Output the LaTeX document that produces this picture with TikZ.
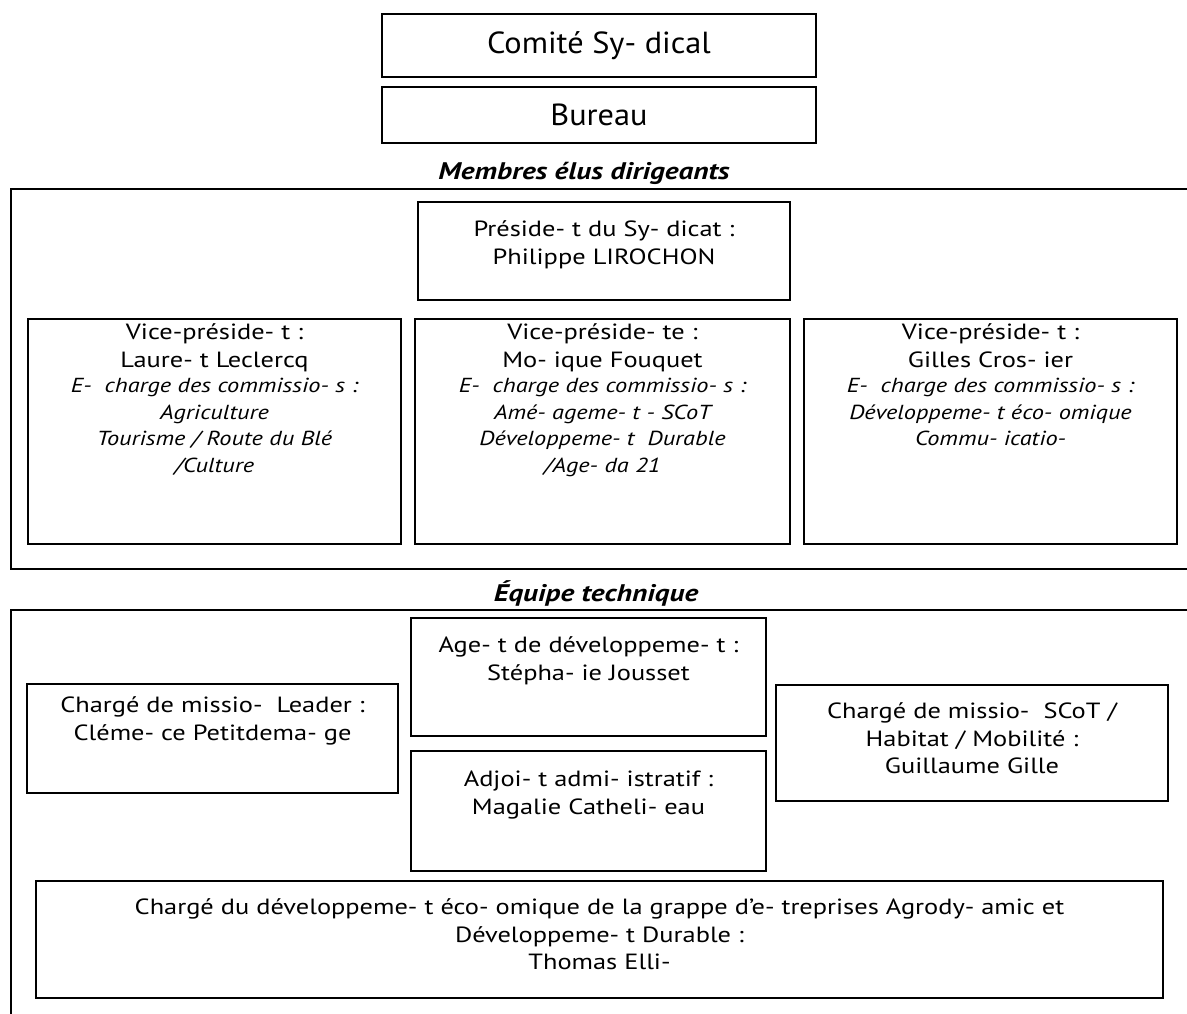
\documentclass[tikz,border=0pt]{standalone}
\usepackage{fontspec}
\setmainfont{PT Sans}[FakeStretch=1.2]
\newfontfamily\bigfont{PT Sans}[FakeStretch=1.06]
\newfontfamily\headfont{PT Sans}[FakeStretch=1.22]
\usetikzlibrary{fit}
\newcommand{\myst}{\rule{0pt}{1em}}
\tikzset{
 box/.style={draw=black, line width=1.5pt, inner sep=0pt},
 frame/.style={draw=black, line width=2pt},
 txt/.style={font=\fontsize{22}{27.5}\selectfont, align=center, inner sep=0pt, anchor=north},
 itxt/.style={txt, font=\fontsize{20.3}{26.5}\selectfont\itshape},
 big/.style={font=\bigfont\fontsize{30.5}{34}\selectfont, inner sep=0pt},
 head/.style={font=\headfont\fontsize{24}{28}\selectfont\bfseries\itshape, inner sep=0pt, anchor=base},
}
\begin{document}
\begin{tikzpicture}[x=1pt,y=-1pt]
\useasboundingbox (0,0) rectangle (1187,1014);
% top boxes
\node[box, fit={(382,14) (816,77)}] (comite) {};
\node[big] (comitet) at (comite.center) {Comité Sy- dical};
\node[box, fit={(382,87) (816,143)}] (bureau) {};
\node[big] (bureaut) at (bureau.center) {Bureau};
% section 1
\node[head] (membres) at (584,179) {Membres élus dirigeants};
\draw[frame] (1187,189) -- (11,189) -- (11,569) -- (1187,569);
\node[box, fit={(418,202) (790,300)}] (pres) {};
\node[txt] (prest) at (604,214.7) {\myst Préside- t du Sy- dicat :\\Philippe LIROCHON};
\node[box, fit={(28,319) (401,544)}] (vp1) {};
\node[txt] (vp1a) at (214.5,317.7) {\myst Vice-préside- t :\\Laure- t Leclercq};
\node[itxt] (vp1b) at (214.5,372) {\myst E-~~charge des commissio- s :\\Agriculture\\Tourisme / Route du Blé\\/Culture};
\node[box, fit={(415,319) (790,544)}] (vp2) {};
\node[txt] (vp2a) at (602.5,317.7) {\myst Vice-préside- te :\\Mo- ique Fouquet};
\node[itxt] (vp2b) at (602.5,372) {\myst E-~~charge des commissio- s :\\Amé- ageme- t - SCoT\\Développeme- t~~Durable\\/Age- da 21};
\node[box, fit={(804,319) (1177,544)}] (vp3) {};
\node[txt] (vp3a) at (990.5,317.7) {\myst Vice-préside- t :\\Gilles Cros- ier};
\node[itxt] (vp3b) at (990.5,372) {\myst E-~~charge des commissio- s :\\Développeme- t éco- omique\\Commu- icatio-};
% section 2
\node[head] (equipe) at (596,601) {Équipe technique};
\draw[frame] (1187,610) -- (11,610) -- (11,1014);
\node[box, fit={(411,618) (766,736)}] (agent) {};
\node[txt] (agentt) at (588.5,630.7) {\myst Age- t de développeme- t :\\Stépha- ie Jousset};
\node[box, fit={(27,684) (398,793)}] (leader) {};
\node[txt] (leadert) at (212.5,690.7) {\myst Chargé de missio-~~Leader :\\Cléme- ce Petitdema- ge};
\node[box, fit={(411,751) (766,871)}] (adjoint) {};
\node[txt] (adjointt) at (588.5,764.7) {\myst Adjoi- t admi- istratif :\\Magalie Catheli- eau};
\node[box, fit={(776,685) (1168,801)}] (scot) {};
\node[txt] (scott) at (972,696.7) {\myst Chargé de missio-~~SCoT /\\Habitat / Mobilité :\\Guillaume Gille};
\node[box, fit={(36,881) (1163,998)}] (thomas) {};
\node[txt] (thomast) at (599.5,892.7) {\myst Chargé du développeme- t éco- omique de la grappe d'e- treprises Agrody- amic et\\Développeme- t Durable :\\Thomas Elli-};
\end{tikzpicture}
\end{document}
